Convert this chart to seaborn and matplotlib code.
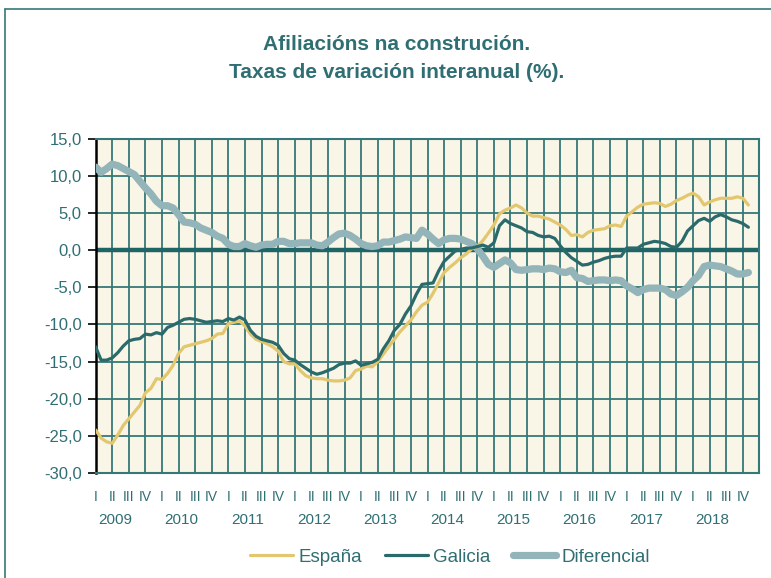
import numpy as np
import pandas as pd
import matplotlib
matplotlib.use('Agg')
import matplotlib.pyplot as plt
import seaborn as sns

# monthly series, Jan 2009 - Nov 2018
espana = [-24.2, -25.3, -25.8, -26.0, -24.9, -23.6, -22.7, -21.8, -20.9, -19.2,
          -18.6, -17.3, -17.4, -16.6, -15.5, -13.9, -13.0, -12.8, -12.6, -12.4,
          -12.2, -11.9, -11.3, -11.2, -9.9, -9.7, -9.5, -10.2, -11.3, -12.0,
          -12.3, -12.6, -13.0, -13.6, -15.0, -15.3, -15.3, -16.2, -16.9, -17.2,
          -17.3, -17.3, -17.5, -17.6, -17.6, -17.5, -17.2, -16.2, -16.0, -15.6,
          -15.7, -15.0, -14.0, -13.0, -12.0, -11.0, -10.2, -9.4, -8.3, -7.4,
          -7.0, -5.8, -4.4, -3.0, -2.3, -1.7, -1.0, -0.5, 0.2, 0.5,
          1.3, 2.3, 3.4, 4.9, 5.4, 5.7, 6.1, 5.7, 5.0, 4.6,
          4.6, 4.4, 4.2, 3.8, 3.4, 2.8, 2.0, 2.1, 1.8, 2.4,
          2.7, 2.8, 2.9, 3.3, 3.4, 3.2, 4.6, 5.2, 5.8, 6.2,
          6.3, 6.4, 6.3, 5.9, 6.2, 6.7, 7.0, 7.4, 7.7, 7.2,
          6.1, 6.5, 6.8, 7.0, 7.0, 7.0, 7.2, 7.0, 6.1]
galicia = [-13.0, -14.8, -14.8, -14.5, -13.8, -12.9, -12.2, -12.0, -11.9, -11.3,
           -11.4, -11.1, -11.3, -10.4, -10.1, -9.7, -9.3, -9.2, -9.3, -9.5,
           -9.7, -9.6, -9.5, -9.6, -9.2, -9.4, -9.0, -9.4, -10.8, -11.6,
           -12.0, -12.2, -12.4, -12.8, -13.9, -14.6, -14.8, -15.4, -15.9, -16.4,
           -16.7, -16.5, -16.2, -15.9, -15.4, -15.2, -15.2, -14.9, -15.5, -15.3,
           -15.1, -14.7, -13.3, -12.2, -10.8, -10.0, -8.6, -7.5, -5.9, -4.6,
           -4.5, -4.4, -2.8, -1.5, -0.8, -0.1, 0.1, 0.3, 0.3, 0.5,
           0.7, 0.4, 1.0, 3.3, 4.1, 3.6, 3.3, 3.0, 2.5, 2.4,
           2.0, 1.8, 1.9, 1.6, 0.6, -0.3, -1.0, -1.5, -2.0, -1.9,
           -1.6, -1.4, -1.1, -0.9, -0.8, -0.8, 0.3, 0.3, 0.3, 0.8,
           1.0, 1.2, 1.1, 0.9, 0.5, 0.4, 1.2, 2.6, 3.3, 4.0,
           4.3, 3.9, 4.5, 4.8, 4.5, 4.1, 3.9, 3.6, 3.1]
diferencial = [11.2, 10.5, 11.0, 11.6, 11.4, 11.0, 10.6, 10.2, 9.3, 8.4,
               7.6, 6.6, 6.0, 6.0, 5.7, 4.8, 3.8, 3.7, 3.5, 3.0,
               2.7, 2.4, 1.9, 1.6, 0.8, 0.5, 0.5, 0.9, 0.6, 0.4,
               0.7, 0.8, 0.8, 1.2, 1.2, 0.9, 0.9, 1.0, 1.0, 1.0,
               0.7, 0.6, 1.1, 1.7, 2.2, 2.3, 2.0, 1.5, 0.9, 0.6,
               0.5, 0.6, 1.1, 1.1, 1.3, 1.5, 1.8, 1.7, 1.6, 2.7,
               2.2, 1.5, 0.9, 1.4, 1.6, 1.6, 1.5, 1.2, 0.9, 0.2,
               -0.8, -1.9, -2.3, -1.8, -1.3, -1.7, -2.6, -2.7, -2.6, -2.5,
               -2.5, -2.6, -2.4, -2.5, -2.9, -3.0, -2.7, -3.7, -3.8, -4.2,
               -4.1, -4.0, -4.0, -4.1, -4.0, -4.1, -4.8, -5.2, -5.7, -5.3,
               -5.1, -5.1, -5.1, -5.3, -5.9, -6.1, -5.6, -5.0, -4.1, -3.4,
               -2.2, -2.0, -2.1, -2.2, -2.5, -2.8, -3.2, -3.2, -3.0]

years = [str(y) for y in range(2009, 2019)]
quarters = ['I', 'II', 'III', 'IV']
yticks = list(range(-30, 20, 5))

df = pd.DataFrame({'mes': np.arange(len(espana)),
                   'España': espana, 'Galicia': galicia, 'Diferencial': diferencial})

teal_txt = '#2f6f73'
teal_grid = '#367878'
c_esp = '#e2c76f'
c_gal = '#2b6a6b'
c_dif = '#93b4b9'

sns.set_style('white')
plt.rcParams['font.family'] = ['Liberation Sans', 'DejaVu Sans']

fig = plt.figure(figsize=(7.71, 5.78), dpi=100)
ax = fig.add_axes([0.124, 0.1817, 0.861, 0.578])
ax.set_facecolor('#f9f5e7')

# grid
for x in range(0, 121, 3):
    ax.axvline(x, color=teal_grid, lw=1.3, zorder=1)
for y in yticks:
    ax.axhline(y, color=teal_grid, lw=1.3, zorder=1)
ax.axhline(0, color='#1f6566', lw=3.2, zorder=2)

sns.lineplot(data=df, x='mes', y='Diferencial', color=c_dif, linewidth=5.2,
             solid_capstyle='round', label='Diferencial', ax=ax, zorder=3)
sns.lineplot(data=df, x='mes', y='España', color=c_esp, linewidth=2.3,
             label='España', ax=ax, zorder=4)
sns.lineplot(data=df, x='mes', y='Galicia', color=c_gal, linewidth=2.3,
             label='Galicia', ax=ax, zorder=5)

ax.set_xlim(0, 120)
ax.set_ylim(-30, 15)
ax.set_yticks(yticks)
ax.set_yticklabels([('%.1f' % v).replace('.', ',') for v in yticks])
ax.set_xticks(range(0, 120, 3))
ax.set_xticklabels(quarters * len(years))
ax.set_xlabel('')
ax.set_ylabel('')
ax.tick_params(axis='y', length=6, width=1.2, color='black', labelsize=12,
               labelcolor=teal_txt, pad=4, left=True)
ax.tick_params(axis='x', length=0, labelsize=10, labelcolor=teal_txt, pad=12)

for s in ['top', 'right', 'bottom']:
    ax.spines[s].set_color(teal_grid)
    ax.spines[s].set_linewidth(1.5)
ax.spines['left'].set_color('black')
ax.spines['left'].set_linewidth(1.8)

for k, yr in enumerate(years):
    ax.text(12 * k + 3.5, -0.141, yr, transform=ax.get_xaxis_transform(),
            ha='center', va='center', fontsize=11, color=teal_txt)

# legend in the España, Galicia, Diferencial order
handles, labels = ax.get_legend_handles_labels()
order = [labels.index(n) for n in ['España', 'Galicia', 'Diferencial']]
ax.legend_.remove()
fig.legend([handles[i] for i in order], [labels[i] for i in order],
           loc='center', bbox_to_anchor=(450 / 771, 1 - 557 / 578), ncol=3,
           frameon=False, fontsize=13.5, labelcolor=teal_txt,
           handlelength=2.3, handletextpad=0.3, columnspacing=1.2)

title_font = ['Liberation Sans Narrow', 'Liberation Sans', 'DejaVu Sans']
fig.text(397 / 771, 1 - 45 / 578, 'Afiliacións na construción.', ha='center',
         va='center', fontsize=15, fontweight='bold', color=teal_txt, family=title_font)
fig.text(397 / 771, 1 - 72 / 578, 'Taxas de variación interanual (%).', ha='center',
         va='center', fontsize=15, fontweight='bold', color=teal_txt, family=title_font)

# outer frame (top and left edges)
fig.add_artist(plt.Line2D([5 / 771, 5 / 771], [0, 1 - 9 / 578], color=teal_grid, lw=1.2))
fig.add_artist(plt.Line2D([5 / 771, 1], [1 - 9 / 578, 1 - 9 / 578], color=teal_grid, lw=1.2))

fig.savefig('out.png', dpi=100)
